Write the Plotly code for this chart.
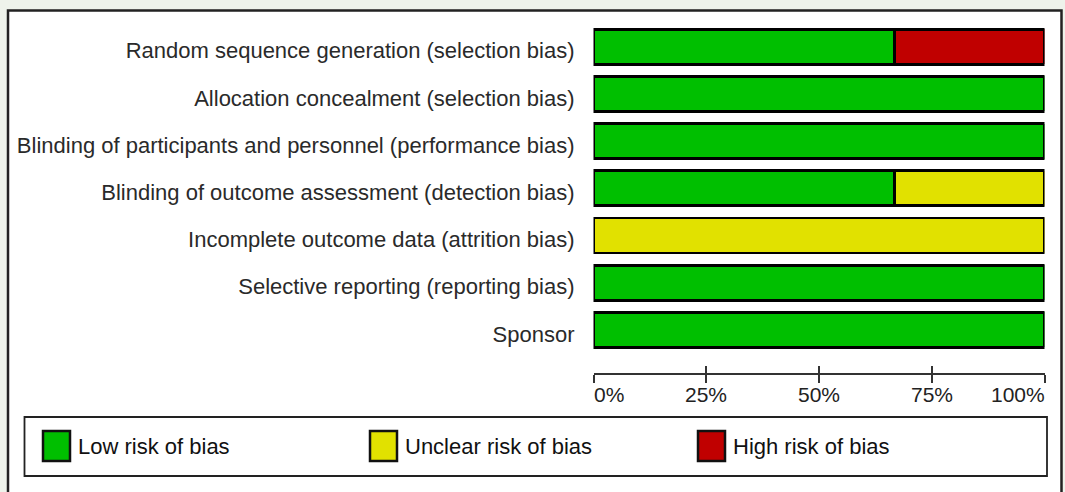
import plotly.graph_objects as go

W, H = 1065, 492

domains = [
    "Random sequence generation (selection bias)",
    "Allocation concealment (selection bias)",
    "Blinding of participants and personnel (performance bias)",
    "Blinding of outcome assessment (detection bias)",
    "Incomplete outcome data (attrition bias)",
    "Selective reporting (reporting bias)",
    "Sponsor",
]
low_risk = [66.7, 100, 100, 66.7, 0, 100, 100]
unclear_risk = [0, 0, 0, 33.3, 100, 0, 0]
high_risk = [33.3, 0, 0, 0, 0, 0, 0]

series_names = ["Low risk of bias", "Unclear risk of bias", "High risk of bias"]
series_colors = ["#00bf00", "#e1e100", "#c00000"]
series_values = [low_risk, unclear_risk, high_risk]

tick_vals = [0, 25, 50, 75, 100]
tick_text = ["0%", "25%", "50%", "75%", "100%"]

FONT = "Liberation Sans, Arial, sans-serif"
fig = go.Figure()
for name, color, vals in zip(series_names, series_colors, series_values):
    fig.add_trace(go.Bar(
        y=domains, x=[v if v > 0 else None for v in vals], name=name,
        orientation="h", width=0.74,
        marker=dict(color=color, line=dict(color="#000000", width=2.8)),
        showlegend=False,
    ))

x_dom = [593.5 / W, 1044.5 / W]
y_dom = [(H - 353.5) / H, (H - 23.1) / H]
axis_pos = (H - 374) / H

shapes = [
    # outer white panel
    dict(type="rect", xref="paper", yref="paper", x0=8 / W, x1=1061.5 / W,
         y0=-0.1, y1=(H - 10.5) / H, fillcolor="white",
         line=dict(color="#222222", width=2.5), layer="below"),
    # legend box
    dict(type="rect", xref="paper", yref="paper", x0=24.5 / W, x1=1047 / W,
         y0=(H - 476) / H, y1=(H - 417) / H, fillcolor="white",
         line=dict(color="#222222", width=1.8), layer="below"),
]
annotations = []
leg_x = [42, 369, 697]
for name, color, lx in zip(series_names, series_colors, leg_x):
    shapes.append(dict(type="rect", xref="paper", yref="paper",
                       x0=(lx + 1) / W, x1=(lx + 28) / W,
                       y0=(H - 461) / H, y1=(H - 431) / H,
                       fillcolor=color, line=dict(color="#111111", width=2.5)))
    annotations.append(dict(text=name, xref="paper", yref="paper",
                            x=(lx + 34) / W, y=(H - 446) / H,
                            xanchor="left", yanchor="middle", showarrow=False,
                            font=dict(family=FONT, size=22, color="#111111")))

for i, (tv, tt) in enumerate(zip(tick_vals, tick_text)):
    anchor = "left" if i == 0 else ("right" if i == len(tick_vals) - 1 else "center")
    annotations.append(dict(text=tt, xref="x", yref="paper", x=tv,
                            y=(H - 394) / H, xanchor=anchor, yanchor="middle",
                            showarrow=False, xshift=-2 if anchor == "left" else (2 if anchor == "right" else 0),
                            font=dict(family=FONT, size=21, color="#222222")))

fig.update_layout(
    width=W, height=H,
    margin=dict(l=0, r=0, t=0, b=0),
    paper_bgcolor="#eef3eb", plot_bgcolor="white",
    barmode="stack", bargap=0.25,
    font=dict(family=FONT, size=22, color="#333333"),
    shapes=shapes, annotations=annotations,
    xaxis=dict(domain=x_dom, range=[0, 100], anchor="free", position=axis_pos,
               showgrid=False, zeroline=False, showline=True, linecolor="#333333",
               linewidth=1.5, ticks="outside", ticklen=8, tickwidth=1.5,
               tickcolor="#333333", tickvals=tick_vals, showticklabels=False),
    xaxis2=dict(domain=x_dom, range=[0, 100], anchor="free", position=axis_pos,
                overlaying="x", showgrid=False, zeroline=False, showline=False,
                ticks="inside", ticklen=8, tickwidth=1.5, tickcolor="#333333",
                tickvals=tick_vals, showticklabels=False),
    yaxis=dict(domain=y_dom, categoryorder="array", categoryarray=domains,
               autorange="reversed", showgrid=False, zeroline=False,
               showline=False, ticks="", ticklabelstandoff=18, ticklabelshift=-4,
               tickfont=dict(family=FONT, size=22, color="#2a2a2a")),
)
# invisible trace to activate xaxis2
fig.add_trace(go.Scatter(x=[0, 100], y=[None, None], xaxis="x2", showlegend=False,
                         hoverinfo="skip"))
fig.write_html("out.html", config={"displayModeBar": False},
               post_script="document.body.style.margin='0';document.body.style.overflow='hidden';")
